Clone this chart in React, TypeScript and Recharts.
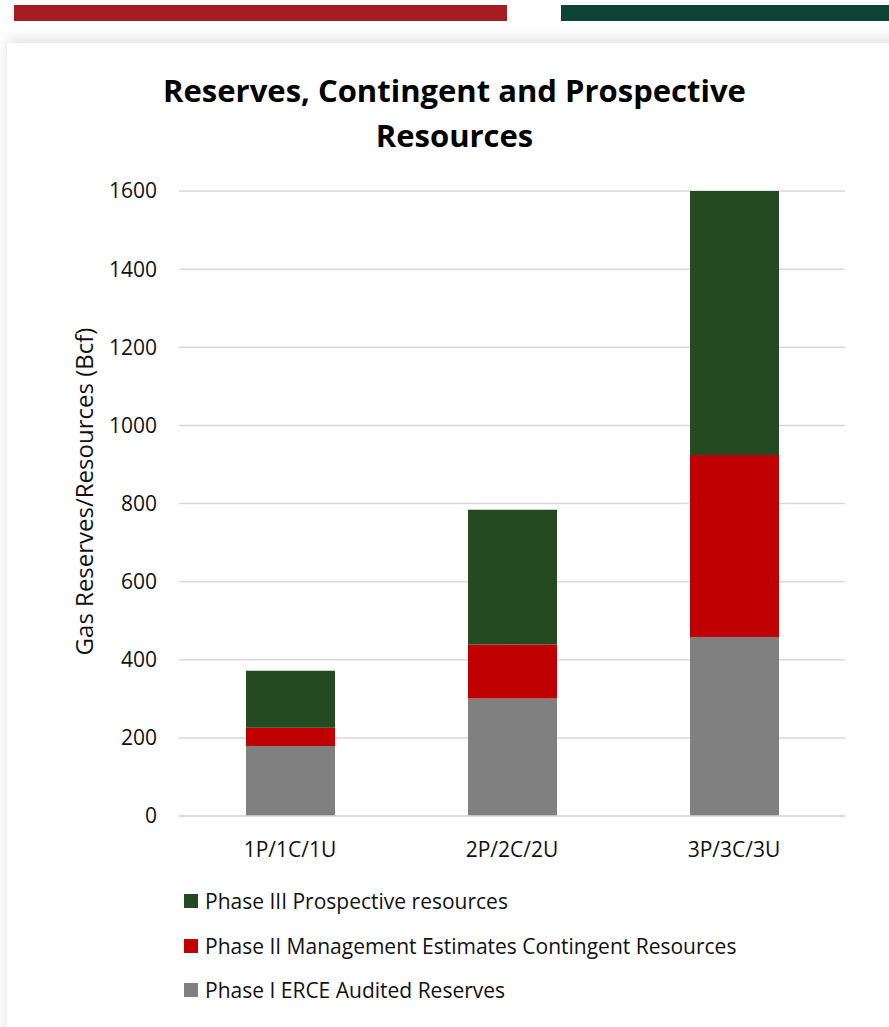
import React from 'react';
import { Bar, BarChart, CartesianGrid, XAxis, YAxis } from 'recharts';

const categories = ['1P/1C/1U', '2P/2C/2U', '3P/3C/3U'];
const phaseI = [179, 301, 458];
const phaseII = [47, 138, 466];
const phaseIII = [146, 345, 676];
const yTicks = [0, 200, 400, 600, 800, 1000, 1200, 1400, 1600];

const seriesNames = [
  'Phase I ERCE Audited Reserves',
  'Phase II Management Estimates Contingent Resources',
  'Phase III Prospective resources',
];
const seriesColors = ['#808080', '#C00000', '#244A22'];

const data = categories.map((name, i) => ({
  name,
  p1: phaseI[i],
  p2: phaseII[i],
  p3: phaseIII[i],
}));

const FONT = '"Open Sans", sans-serif';

export default function App() {
  const tick = { fill: '#111', fontSize: 21, fontFamily: FONT };
  return (
    <div style={{ position: 'absolute', left: 0, top: 0, width: 889, height: 1027, background: '#fff', overflow: 'hidden' }}>
      <div style={{ position: 'absolute', left: 14, top: 5, width: 493, height: 16, background: '#A51C22' }} />
      <div style={{ position: 'absolute', left: 561, top: 5, width: 328, height: 16, background: '#0E4433' }} />
      <div
        style={{
          position: 'absolute',
          left: 7,
          top: 43,
          width: 900,
          height: 1000,
          background: '#fff',
          boxShadow: '0 -4px 14px rgba(0,0,0,0.12)',
        }}
      />
      <div
        style={{
          position: 'absolute',
          left: 0,
          width: 909,
          top: 68,
          textAlign: 'center',
          fontFamily: FONT,
          fontWeight: 700,
          fontSize: 31,
          lineHeight: '45px',
          color: '#000',
        }}
      >
        Reserves, Contingent and Prospective
        <br />
        Resources
      </div>
      <div style={{ position: 'absolute', left: 0, top: 0 }}>
        <BarChart
          width={889}
          height={1027}
          data={data}
          margin={{ top: 191, right: 44, left: 0, bottom: 151 }}
        >
          <CartesianGrid horizontal vertical={false} stroke="#D9D9D9" strokeWidth={1.5} />
          <XAxis
            dataKey="name"
            height={60}
            tickSize={0}
            tickMargin={26}
            tick={tick}
            axisLine={{ stroke: '#D9D9D9', strokeWidth: 1.5 }}
          />
          <YAxis
            width={179}
            domain={[0, 1600]}
            ticks={yTicks}
            tickSize={0}
            tickMargin={22}
            tick={tick}
            axisLine={false}
            label={{
              value: 'Gas Reserves/Resources (Bcf)',
              angle: -90,
              position: 'center',
              dx: -5,
              dy: -12,
              style: { fill: '#111', fontSize: 24, fontFamily: FONT },
            }}
          />
          <Bar dataKey="p1" stackId="a" barSize={89} fill={seriesColors[0]} isAnimationActive={false} />
          <Bar dataKey="p2" stackId="a" barSize={89} fill={seriesColors[1]} isAnimationActive={false} />
          <Bar dataKey="p3" stackId="a" barSize={89} fill={seriesColors[2]} isAnimationActive={false} />
        </BarChart>
      </div>
      <div style={{ position: 'absolute', left: 184, top: 879, fontFamily: FONT, fontSize: 21, color: '#111' }}>
        {[2, 1, 0].map((i) => (
          <div key={i} style={{ display: 'flex', alignItems: 'center', height: 44.5 }}>
            <span style={{ display: 'inline-block', width: 14, height: 14, background: seriesColors[i], marginRight: 7 }} />
            <span>{seriesNames[i]}</span>
          </div>
        ))}
      </div>
    </div>
  );
}
